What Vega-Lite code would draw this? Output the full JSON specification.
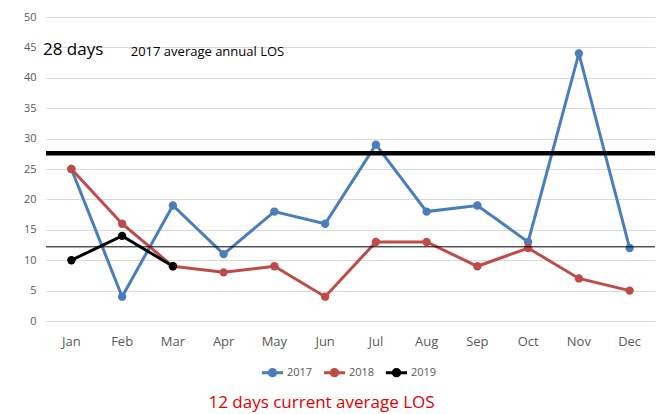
{
  "$schema": "https://vega.github.io/schema/vega-lite/v6.json",
  "autosize": {"type": "none"},
  "padding": {"left": 46, "top": 17, "right": 12, "bottom": 93},
  "width": 609,
  "height": 304,
  "background": "white",
  "config": {
    "view": {"stroke": null},
    "font": "Open Sans",
    "axis": {"labelFont": "Open Sans", "labelColor": "#595959"},
    "legend": {"labelFont": "Open Sans"}
  },
  "title": {
    "text": "12 days current average LOS",
    "orient": "bottom",
    "color": "#e00000",
    "fontSize": 17,
    "fontWeight": "normal",
    "font": "Open Sans",
    "offset": 13,
    "dx": -29
  },
  "datasets": {
    "los": [
      {"month": "Jan", "year": "2017", "value": 25},
      {"month": "Feb", "year": "2017", "value": 4},
      {"month": "Mar", "year": "2017", "value": 19},
      {"month": "Apr", "year": "2017", "value": 11},
      {"month": "May", "year": "2017", "value": 18},
      {"month": "Jun", "year": "2017", "value": 16},
      {"month": "Jul", "year": "2017", "value": 29},
      {"month": "Aug", "year": "2017", "value": 18},
      {"month": "Sep", "year": "2017", "value": 19},
      {"month": "Oct", "year": "2017", "value": 13},
      {"month": "Nov", "year": "2017", "value": 44},
      {"month": "Dec", "year": "2017", "value": 12},
      {"month": "Jan", "year": "2018", "value": 25},
      {"month": "Feb", "year": "2018", "value": 16},
      {"month": "Mar", "year": "2018", "value": 9},
      {"month": "Apr", "year": "2018", "value": 8},
      {"month": "May", "year": "2018", "value": 9},
      {"month": "Jun", "year": "2018", "value": 4},
      {"month": "Jul", "year": "2018", "value": 13},
      {"month": "Aug", "year": "2018", "value": 13},
      {"month": "Sep", "year": "2018", "value": 9},
      {"month": "Oct", "year": "2018", "value": 12},
      {"month": "Nov", "year": "2018", "value": 7},
      {"month": "Dec", "year": "2018", "value": 5},
      {"month": "Jan", "year": "2019", "value": 10},
      {"month": "Feb", "year": "2019", "value": 14},
      {"month": "Mar", "year": "2019", "value": 9}
    ],
    "refs": [
      {"label": "2017 average", "value": 27.6, "w": 4.5},
      {"label": "current average", "value": 12.2, "w": 1}
    ],
    "notes": [
      {"month": "Jan", "value": 44.5, "text": "28 days", "size": 17, "off": -3},
      {"month": "Feb", "value": 44.3, "text": "2017 average annual LOS", "size": 13, "off": 34}
    ]
  },
  "encoding": {
    "x": {
      "field": "month", "type": "ordinal",
      "sort": ["Jan","Feb","Mar","Apr","May","Jun","Jul","Aug","Sep","Oct","Nov","Dec"],
      "scale": {"paddingInner": 0, "paddingOuter": 0},
      "axis": {"title": null, "labelAngle": 0, "labelFontSize": 13, "ticks": false, "domain": false, "labelPadding": 14}
    },
    "y": {
      "field": "value", "type": "quantitative",
      "scale": {"domain": [0, 50]},
      "axis": {"title": null, "values": [0,5,10,15,20,25,30,35,40,45,50], "grid": true, "gridColor": "#d9d9d9", "domain": false, "ticks": false, "labelFontSize": 11, "labelPadding": 10, "labelOverlap": false}
    }
  },
  "layer": [
    {
      "data": {"name": "los"},
      "mark": {"type": "line", "strokeWidth": 3, "point": {"size": 70, "filled": true, "opacity": 1}},
      "encoding": {
        "color": {
          "field": "year", "type": "nominal",
          "scale": {"domain": ["2017","2018","2019"], "range": ["#4a7ebb","#be4b48","#000000"]},
          "legend": {
            "title": null, "orient": "none", "direction": "horizontal",
            "legendX": 214, "legendY": 343,
            "labelFontSize": 11, "labelColor": "#595959",
            "symbolType": "M-1,0H-0.3M0.3,0H1M-0.3,0A0.3,0.3,0,1,1,0.3,0A0.3,0.3,0,1,1,-0.3,0Z",
            "symbolSize": 450, "symbolStrokeWidth": 3, "columnPadding": 4, "labelOffset": 2
          }
        }
      }
    },
    {
      "data": {"name": "refs"},
      "mark": {"type": "rule", "color": "black"},
      "encoding": {
        "x": null,
        "strokeWidth": {"field": "w", "type": "quantitative", "scale": null, "legend": null}
      }
    },
    {
      "data": {"name": "notes"},
      "mark": {"type": "text", "align": "left", "baseline": "middle", "color": "black"},
      "encoding": {
        "text": {"field": "text"},
        "size": {"field": "size", "type": "quantitative", "scale": null, "legend": null},
        "xOffset": {"field": "off", "type": "quantitative", "scale": null}
      }
    }
  ]
}
